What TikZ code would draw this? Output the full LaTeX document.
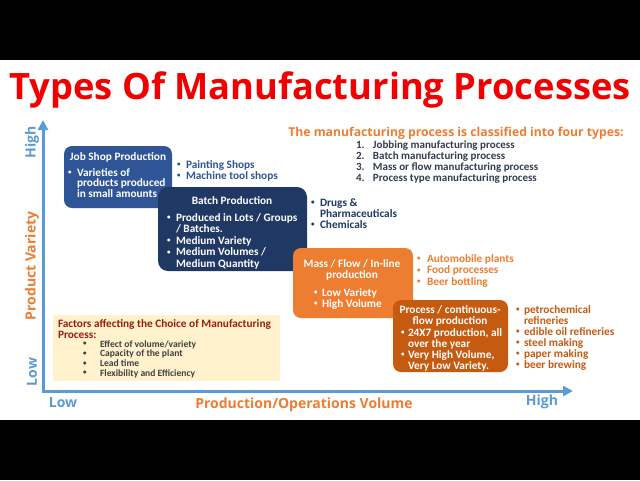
\documentclass[tikz,border=0pt]{standalone}
\usepackage{fontspec}
\setmainfont{Carlito}
\newfontfamily\osans{Open Sans}
\usetikzlibrary{arrows.meta}
\definecolor{axblue}{HTML}{5B9BD5}
\definecolor{jobblue}{HTML}{2F5597}
\definecolor{navy}{HTML}{203864}
\definecolor{orng}{HTML}{ED7D31}
\definecolor{brorng}{HTML}{C55A11}
\definecolor{slate}{HTML}{323E4F}
\definecolor{cream}{HTML}{FFF2CC}
\definecolor{maroon}{HTML}{9B1C10}
\definecolor{dgray}{HTML}{404040}
\definecolor{titlered}{HTML}{F00000}
\newcommand\bu[1][9pt]{\makebox[#1][l]{\raisebox{1.2pt}{\fontsize{7}{7}\selectfont•}}}
\newcommand\nb[1][9pt]{\kern#1\relax}
\newcommand\num[1]{\makebox[17pt][l]{#1}}
\newcommand\lstackL[2]{\vtop{\baselineskip=#1\lineskiplimit=-50pt\relax\halign{##\hfil\cr#2\crcr}}}
\newcommand\lstackC[2]{\vtop{\baselineskip=#1\lineskiplimit=-50pt\relax\halign{\hfil##\hfil\cr#2\crcr}}}
\tikzset{
  axis/.style={line width=3pt, draw=axblue, line join=miter,
    {Triangle[length=10pt,width=10pt]}-{Triangle[length=10pt,width=10pt]}},
  pbox/.style={rounded corners=8pt, inner sep=0pt, outer sep=0pt, draw=none, anchor=north west},
  btxt/.style={inner sep=0pt, outer sep=0pt, text=white, font=\bfseries\fontsize{11.3}{12}\selectfont},
  stxt/.style={inner sep=0pt, outer sep=0pt, anchor=base west, font=\bfseries\fontsize{11.3}{12}\selectfont},
  axlab/.style={inner sep=0pt, outer sep=0pt, font=\osans\bfseries\fontsize{14}{15}\selectfont},
}
\begin{document}
\begin{tikzpicture}[x=1pt,y=-1pt]
\useasboundingbox (0,0) rectangle (640,480);
\fill[white] (0,60) rectangle (640,420);
\fill[black] (0,0) rectangle (640,60);
\fill[black] (0,420) rectangle (640,480);

% title
\node[inner sep=0pt, anchor=base, text=titlered, font=\osans\bfseries\fontsize{36.3}{40}\selectfont] (title) at (320,99) {Types Of Manufacturing Processes};

% axes
\coordinate (ytip) at (43,120);
\coordinate (corner) at (43,391);
\coordinate (xtip) at (573,391);
\draw[axis] (ytip) -- (corner) -- (xtip);

\node[axlab, text=axblue, rotate=90] (yhigh) at (32,142) {High};
\node[axlab, text=axblue, rotate=90] (ylow) at (32,372) {Low};
\node[axlab, text=orng, rotate=90] (ylab) at (32,266) {Product Variety};
\node[axlab, text=axblue, anchor=base] (xlow) at (63,407) {Low};
\node[axlab, text=orng, anchor=base] (xlab) at (304,408) {Production/Operations Volume};
\node[axlab, text=axblue, anchor=base] (xhigh) at (542,405) {High};

% heading
\node[inner sep=0pt, anchor=base, text=orng, font=\osans\bfseries\fontsize{12.2}{13}\selectfont] (head) at (456,136) {The manufacturing process is classified into four types:};
\node[stxt, text=slate, font=\bfseries\fontsize{11}{12}\selectfont] (types) at (356,148) {\lstackL{11pt}{%
\num{1.}Jobbing manufacturing process\cr
\num{2.}Batch manufacturing process\cr
\num{3.}Mass or flow manufacturing process\cr
\num{4.}Process type manufacturing process}};

% job shop
\node[pbox, fill=jobblue, minimum width=108pt, minimum height=62pt] (job) at (64,146) {};
\node[btxt, anchor=base] (jobt) at (118,160) {Job Shop Production};
\node[btxt, anchor=base west] (jobb) at (68,176) {\lstackL{10.6pt}{\bu Varieties of\cr\nb products produced\cr\nb in small amounts}};
\node[stxt, text=jobblue] (jobs) at (177,168) {\lstackL{11pt}{\bu Painting Shops\cr\bu Machine tool shops}};

% batch
\node[pbox, fill=navy, minimum width=149pt, minimum height=84pt, rounded corners=10pt] (batch) at (158,187) {};
\node[btxt, anchor=base] (batcht) at (232,204) {Batch Production};
\node[btxt, anchor=base west] (batchb) at (167,221) {\lstackL{11.5pt}{\bu Produced in Lots / Groups\cr\nb / Batches.\cr\bu Medium Variety\cr\bu Medium Volumes /\cr\nb Medium Quantity}};
\node[stxt, text=navy] (batchs) at (311,206) {\lstackL{11pt}{\bu Drugs \&\cr\nb Pharmaceuticals\cr\bu Chemicals}};

% mass
\node[pbox, fill=orng, minimum width=120pt, minimum height=70pt] (mass) at (293,248) {};
\node[btxt, anchor=base] (masst) at (352,267) {\lstackC{11pt}{Mass / Flow / In-line\cr production}};
\node[btxt, anchor=base west] (massb) at (314,296) {\lstackL{11pt}{\bu[8pt]Low Variety\cr\bu[8pt]High Volume}};
\node[stxt, text=orng] (masss) at (417,262) {\lstackL{11.5pt}{\bu[10pt]Automobile plants\cr\bu[10pt]Food processes\cr\bu[10pt]Beer bottling}};

% process
\node[pbox, fill=brorng, minimum width=115pt, minimum height=72pt] (proc) at (393,300) {};
\node[btxt, anchor=base] (proct) at (450,313) {\lstackC{11.5pt}{Process / continuous-\cr flow production}};
\node[btxt, anchor=base west] (procb) at (401,336) {\lstackL{11pt}{\bu[7pt]24X7 production, all\cr\nb[7pt]over the year\cr\bu[7pt]Very High Volume,\cr\nb[7pt]Very Low Variety.}};
\node[stxt, text=brorng] (procs) at (516,313) {\lstackL{11pt}{\bu[8pt]petrochemical\cr\nb[8pt]refineries\cr\bu[8pt]edible oil refineries\cr\bu[8pt]steel making\cr\bu[8pt]paper making\cr\bu[8pt]beer brewing}};

% factors
\node[pbox, fill=cream, rounded corners=0pt, minimum width=227pt, minimum height=66pt] (factors) at (53,315) {};
\node[stxt, text=maroon] (factt) at (58,327) {\lstackL{11pt}{Factors affecting the Choice of Manufacturing\cr Process:}};
\node[stxt, text=dgray, font=\bfseries\fontsize{9.6}{10}\selectfont] (factb) at (83,347) {\lstackL{9.7pt}{\bu[17pt]Effect of volume/variety\cr\bu[17pt]Capacity of the plant\cr\bu[17pt]Lead time\cr\bu[17pt]Flexibility and Efficiency}};
\end{tikzpicture}
\end{document}
